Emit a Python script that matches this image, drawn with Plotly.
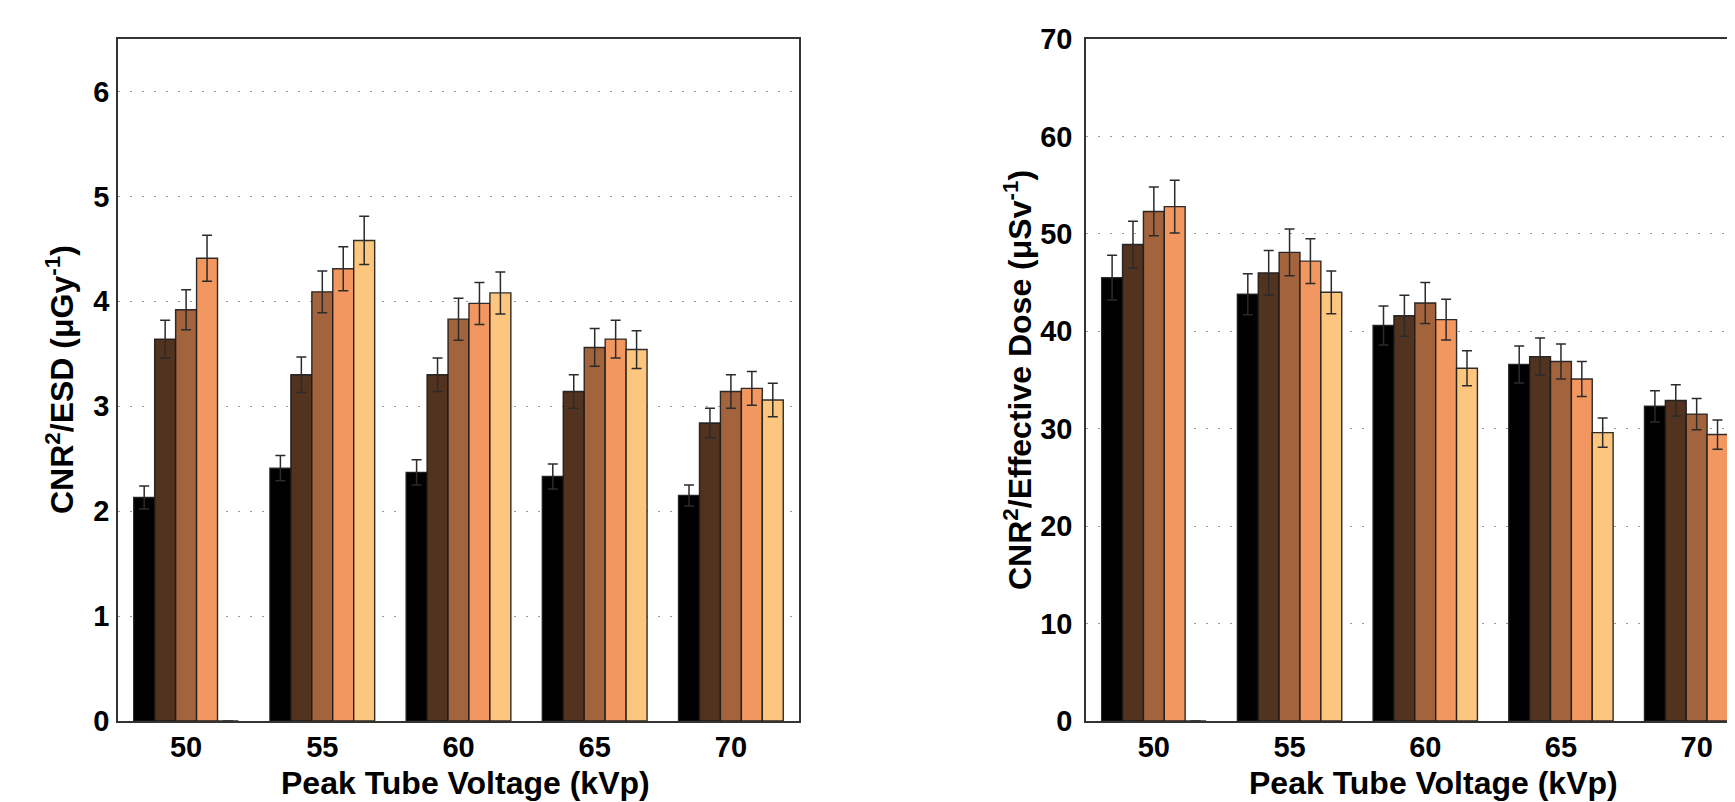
import plotly.graph_objects as go

W, H = 1735, 802
OFF = 8  # page body margin offset in the browser

kvp = [50, 55, 60, 65, 70]
tick_labels = ["50", "55", "60", "65", "70"]

colors = ["#000000", "#52331F", "#A3643D", "#F2975F", "#FDC67F"]

# Left panel: CNR^2/ESD (uGy^-1)
esd_vals = [
    [2.13, 2.41, 2.37, 2.33, 2.15],
    [3.64, 3.30, 3.30, 3.14, 2.84],
    [3.92, 4.09, 3.83, 3.56, 3.14],
    [4.41, 4.31, 3.98, 3.64, 3.17],
    [0.00, 4.58, 4.08, 3.54, 3.06],
]
esd_err = [
    [0.11, 0.12, 0.12, 0.12, 0.10],
    [0.18, 0.17, 0.16, 0.16, 0.14],
    [0.19, 0.20, 0.20, 0.18, 0.16],
    [0.22, 0.21, 0.20, 0.18, 0.16],
    [0.00, 0.23, 0.20, 0.18, 0.16],
]

# Right panel: CNR^2/Effective Dose (uSv^-1)
eff_vals = [
    [45.5, 43.8, 40.6, 36.6, 32.3],
    [48.9, 46.0, 41.6, 37.4, 32.9],
    [52.3, 48.1, 42.9, 36.9, 31.5],
    [52.8, 47.2, 41.2, 35.1, 29.4],
    [0.0, 44.0, 36.2, 29.6, 24.0],
]
eff_err = [
    [2.3, 2.1, 2.0, 1.9, 1.6],
    [2.4, 2.3, 2.1, 1.9, 1.6],
    [2.5, 2.4, 2.1, 1.8, 1.6],
    [2.7, 2.3, 2.1, 1.8, 1.5],
    [0.0, 2.2, 1.8, 1.5, 1.3],
]

left_yticks = [0, 1, 2, 3, 4, 5, 6]
right_yticks = [0, 10, 20, 30, 40, 50, 60, 70]

FONT = "Liberation Sans"


def px_x(p):
    return (p - OFF) / W


def px_y(p):
    return 1 - (p - OFF) / H


fig = go.Figure()

for i in range(5):
    fig.add_trace(go.Bar(
        x=kvp, y=esd_vals[i],
        error_y=dict(type="data", array=esd_err[i], visible=True,
                     color="#2b2b2b", thickness=1.5, width=5),
        marker=dict(color=colors[i], line=dict(color="rgba(25,25,25,0.9)", width=1.4)),
        xaxis="x", yaxis="y", showlegend=False,
    ))
    fig.add_trace(go.Bar(
        x=kvp, y=eff_vals[i],
        error_y=dict(type="data", array=eff_err[i], visible=True,
                     color="#2b2b2b", thickness=1.5, width=5),
        marker=dict(color=colors[i], line=dict(color="rgba(25,25,25,0.9)", width=1.4)),
        xaxis="x2", yaxis="y2", showlegend=False,
    ))

tickfont = dict(family=FONT, size=29, color="black", weight="bold")
grid = dict(showgrid=True, gridcolor="#9a9a9a", gridwidth=1.3, griddash="2px,10px")

ydom = [px_y(721), px_y(39)]
right_end = 47.5 + (W + OFF - 1086) / (135.7 / 5)

fig.update_layout(
    width=W, height=H,
    margin=dict(l=0, r=0, t=0, b=0, autoexpand=False),
    paper_bgcolor="white", plot_bgcolor="white",
    barmode="group", bargap=0.231, bargroupgap=0,
    xaxis=dict(domain=[px_x(118), px_x(799)], range=[47.5, 72.5],
               tickvals=kvp, ticktext=tick_labels, tickfont=tickfont,
               showgrid=False, zeroline=False, showline=True, mirror=True,
               linecolor="#333", linewidth=1.6, ticks="", ticklabelstandoff=-1,
               automargin=False, anchor="y"),
    yaxis=dict(domain=ydom, range=[0, 6.5], tickvals=left_yticks,
               tickfont=tickfont, zeroline=False, showline=True, mirror=True,
               linecolor="#333", linewidth=1.6, ticks="", ticklabelstandoff=1,
               automargin=False, anchor="x", **grid),
    xaxis2=dict(domain=[px_x(1086), 1.0], range=[47.5, right_end],
                tickvals=kvp, ticktext=tick_labels, tickfont=tickfont,
                showgrid=False, zeroline=False, showline=True, mirror=True,
                linecolor="#333", linewidth=1.6, ticks="", ticklabelstandoff=-1,
                automargin=False, anchor="y2"),
    yaxis2=dict(domain=ydom, range=[0, 70], tickvals=right_yticks,
                tickfont=tickfont, zeroline=False, showline=True, mirror=False,
                linecolor="#333", linewidth=1.6, ticks="", ticklabelstandoff=6,
                automargin=False, anchor="x2", **grid),
)

tfont = dict(family=FONT, size=32, color="black", weight="bold")
annos = [
    dict(text="Peak Tube Voltage (kVp)", x=px_x(465), y=px_y(783)),
    dict(text="Peak Tube Voltage (kVp)", x=px_x(1433), y=px_y(783)),
    dict(text="CNR<sup>2</sup>/ESD (\u03bcGy<sup>-1</sup>)", x=px_x(60), y=px_y(380), textangle=-90),
    dict(text="CNR<sup>2</sup>/Effective Dose (\u03bcSv<sup>-1</sup>)", x=px_x(1018), y=px_y(380), textangle=-90),
]
for a in annos:
    fig.add_annotation(xref="paper", yref="paper", showarrow=False,
                       xanchor="center", yanchor="middle", font=tfont, **a)

fig.write_html("out.html")
